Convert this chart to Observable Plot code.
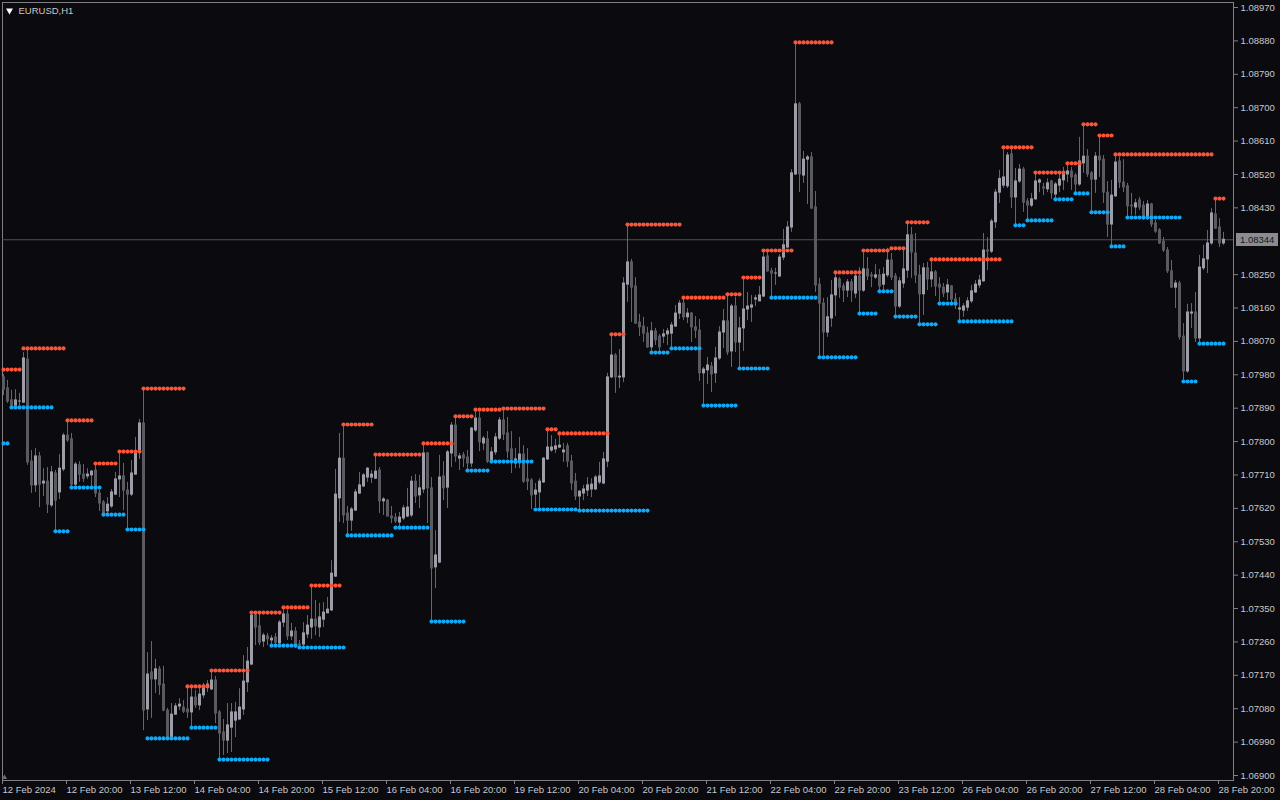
<!DOCTYPE html>
<html><head><meta charset="utf-8">
<style>html,body{margin:0;padding:0;background:#0a0a0f;overflow:hidden}</style>
<script src="https://cdn.jsdelivr.net/npm/d3@7"></script>
<script src="https://cdn.jsdelivr.net/npm/@observablehq/plot@0.6"></script>
</head><body><div id="chart"></div>
<script>
const symbolName = "EURUSD,H1";
const tickBars = [0,16,32,48,64,80,96,112,128,144,160,176,192,208,224,240,256,272,288,304];
const timeLabels = ["12 Feb 2024","12 Feb 20:00","13 Feb 12:00","14 Feb 04:00","14 Feb 20:00","15 Feb 12:00","16 Feb 04:00","16 Feb 20:00","19 Feb 12:00","20 Feb 04:00","20 Feb 20:00","21 Feb 12:00","22 Feb 04:00","22 Feb 20:00","23 Feb 12:00","26 Feb 04:00","26 Feb 20:00","27 Feb 12:00","28 Feb 04:00","28 Feb 20:00"];
// price-axis labels (the 1.08340 slot is covered by the current-price label)
const priceTicks = [1.0690,1.0699,1.0708,1.0717,1.0726,1.0735,1.0744,1.0753,1.0762,1.0771,1.0780,1.0789,1.0798,1.0807,1.0816,1.0825,1.0843,1.0852,1.0861,1.0870,1.0879,1.0888,1.0897];

const open = [1.07973,1.07943,1.07911,1.07897,1.07908,1.07905,1.08021,1.07746,1.07682,1.07760,1.07687,1.07692,1.07628,1.07714,1.07663,1.07725,1.07816,1.07806,1.07684,1.07736,
1.07711,1.07706,1.07709,1.07722,1.07660,1.07636,1.07612,1.07625,1.07657,1.07698,1.07706,1.07668,1.07657,1.07711,1.07771,1.07849,1.07078,1.07178,1.07159,1.07186,
1.07145,1.07075,1.07002,1.07064,1.07086,1.07083,1.07078,1.07070,1.07110,1.07089,1.07116,1.07137,1.07132,1.07156,1.07070,1.07016,1.06994,1.07029,1.07048,1.07051,
1.07078,1.07151,1.07199,1.07331,1.07302,1.07261,1.07275,1.07264,1.07272,1.07256,1.07312,1.07334,1.07275,1.07288,1.07253,1.07253,1.07280,1.07299,1.07320,1.07299,
1.07320,1.07337,1.07345,1.07436,1.07647,1.07754,1.07606,1.07587,1.07614,1.07660,1.07679,1.07703,1.07703,1.07700,1.07722,1.07639,1.07641,1.07598,1.07595,1.07582,
1.07593,1.07598,1.07601,1.07692,1.07655,1.07671,1.07768,1.07674,1.07461,1.07474,1.07706,1.07676,1.07768,1.07843,1.07754,1.07763,1.07757,1.07741,1.07830,1.07862,
1.07795,1.07806,1.07746,1.07771,1.07808,1.07857,1.07822,1.07779,1.07741,1.07744,1.07765,1.07698,1.07695,1.07657,1.07663,1.07690,1.07752,1.07776,1.07779,1.07784,
1.07771,1.07787,1.07746,1.07692,1.07652,1.07660,1.07668,1.07671,1.07671,1.07690,1.07687,1.07746,1.07973,1.08032,1.07973,1.07973,1.08223,1.08283,1.08218,1.08121,
1.08110,1.08091,1.08054,1.08097,1.08083,1.08083,1.08089,1.08091,1.08110,1.08145,1.08172,1.08135,1.08145,1.08108,1.08099,1.07984,1.07992,1.08002,1.07984,1.08024,
1.08094,1.08124,1.08043,1.08164,1.08067,1.08105,1.08156,1.08161,1.08183,1.08178,1.08191,1.08299,1.08259,1.08253,1.08245,1.08296,1.08323,1.08377,1.08520,1.08709,
1.08517,1.08560,1.08566,1.08431,1.08223,1.08172,1.08094,1.08132,1.08194,1.08237,1.08218,1.08207,1.08229,1.08199,1.08245,1.08207,1.08264,1.08248,1.08242,1.08248,
1.08223,1.08248,1.08288,1.08245,1.08164,1.08226,1.08261,1.08356,1.08307,1.08248,1.08197,1.08267,1.08237,1.08256,1.08223,1.08215,1.08202,1.08218,1.08183,1.08156,
1.08153,1.08161,1.08178,1.08202,1.08221,1.08232,1.08315,1.08312,1.08391,1.08471,1.08490,1.08488,1.08574,1.08458,1.08501,1.08533,1.08447,1.08436,1.08453,1.08498,
1.08485,1.08480,1.08501,1.08466,1.08490,1.08504,1.08520,1.08528,1.08517,1.08493,1.08550,1.08568,1.08523,1.08506,1.08568,1.08560,1.08471,1.08385,1.08461,1.08555,
1.08498,1.08488,1.08436,1.08431,1.08450,1.08436,1.08401,1.08439,1.08388,1.08369,1.08339,1.08315,1.08259,1.08215,1.08226,1.08083,1.07989,1.08145,1.08148,1.08078,
1.08267,1.08291,1.08334,1.08412,1.08377,1.08334];

const high = [1.07981,1.07965,1.07938,1.07940,1.07930,1.08040,1.08051,1.07776,1.07781,1.07771,1.07727,1.07730,1.07733,1.07722,1.07765,1.07822,1.07857,1.07822,1.07744,1.07746,
1.07738,1.07727,1.07722,1.07741,1.07668,1.07641,1.07649,1.07671,1.07717,1.07773,1.07741,1.07690,1.07749,1.07811,1.07860,1.07943,1.07231,1.07261,1.07213,1.07194,
1.07194,1.07081,1.07094,1.07094,1.07107,1.07102,1.07140,1.07137,1.07129,1.07137,1.07148,1.07156,1.07183,1.07167,1.07075,1.07051,1.07094,1.07094,1.07097,1.07134,
1.07223,1.07245,1.07339,1.07337,1.07337,1.07283,1.07283,1.07277,1.07283,1.07318,1.07353,1.07345,1.07310,1.07299,1.07264,1.07312,1.07331,1.07412,1.07372,1.07364,
1.07366,1.07380,1.07479,1.07725,1.07822,1.07846,1.07625,1.07622,1.07671,1.07717,1.07714,1.07730,1.07722,1.07765,1.07730,1.07649,1.07644,1.07625,1.07606,1.07609,
1.07628,1.07674,1.07706,1.07711,1.07709,1.07795,1.07771,1.07703,1.07560,1.07763,1.07746,1.07776,1.07851,1.07868,1.07768,1.07771,1.07776,1.07838,1.07886,1.07878,
1.07814,1.07827,1.07784,1.07822,1.07865,1.07889,1.07865,1.07827,1.07781,1.07811,1.07789,1.07781,1.07700,1.07687,1.07700,1.07757,1.07833,1.07816,1.07806,1.07822,
1.07795,1.07795,1.07763,1.07714,1.07668,1.07682,1.07703,1.07700,1.07709,1.07744,1.07771,1.07984,1.08089,1.08037,1.08048,1.08242,1.08385,1.08291,1.08242,1.08143,
1.08135,1.08108,1.08121,1.08105,1.08089,1.08102,1.08105,1.08121,1.08167,1.08180,1.08188,1.08159,1.08148,1.08137,1.08129,1.08000,1.08027,1.08013,1.08054,1.08110,
1.08156,1.08197,1.08170,1.08188,1.08135,1.08242,1.08202,1.08194,1.08194,1.08218,1.08315,1.08315,1.08267,1.08267,1.08304,1.08372,1.08393,1.08533,1.08876,1.08714,
1.08582,1.08571,1.08579,1.08474,1.08240,1.08186,1.08188,1.08234,1.08256,1.08242,1.08226,1.08237,1.08237,1.08253,1.08269,1.08315,1.08296,1.08256,1.08277,1.08264,
1.08269,1.08321,1.08307,1.08253,1.08242,1.08315,1.08391,1.08377,1.08361,1.08275,1.08280,1.08283,1.08291,1.08261,1.08242,1.08226,1.08237,1.08221,1.08199,1.08188,
1.08172,1.08188,1.08221,1.08234,1.08248,1.08361,1.08350,1.08399,1.08480,1.08531,1.08593,1.08579,1.08590,1.08536,1.08547,1.08539,1.08455,1.08469,1.08525,1.08508,
1.08496,1.08508,1.08504,1.08498,1.08520,1.08539,1.08550,1.08539,1.08523,1.08620,1.08655,1.08587,1.08528,1.08579,1.08625,1.08571,1.08501,1.08504,1.08574,1.08566,
1.08560,1.08496,1.08469,1.08453,1.08458,1.08447,1.08450,1.08442,1.08396,1.08374,1.08350,1.08323,1.08288,1.08234,1.08232,1.08118,1.08170,1.08172,1.08202,1.08302,
1.08329,1.08369,1.08428,1.08455,1.08401,1.08364];

const low = [1.07924,1.07903,1.07892,1.07892,1.07897,1.07903,1.07736,1.07660,1.07663,1.07622,1.07652,1.07606,1.07622,1.07558,1.07644,1.07719,1.07798,1.07676,1.07676,1.07690,
1.07690,1.07698,1.07676,1.07649,1.07612,1.07603,1.07606,1.07620,1.07655,1.07649,1.07614,1.07563,1.07652,1.07709,1.07752,1.07021,1.07048,1.07054,1.07121,1.07116,
1.07072,1.07000,1.07000,1.07062,1.07075,1.07067,1.07054,1.07029,1.07081,1.07075,1.07107,1.07124,1.07129,1.07040,1.06943,1.06954,1.06959,1.06962,1.07002,1.07048,
1.07062,1.07124,1.07196,1.07250,1.07250,1.07245,1.07250,1.07250,1.07250,1.07250,1.07299,1.07264,1.07264,1.07242,1.07245,1.07245,1.07269,1.07267,1.07277,1.07272,
1.07299,1.07337,1.07342,1.07434,1.07582,1.07579,1.07547,1.07558,1.07612,1.07657,1.07676,1.07690,1.07687,1.07698,1.07606,1.07601,1.07598,1.07579,1.07579,1.07568,
1.07587,1.07595,1.07595,1.07633,1.07620,1.07660,1.07579,1.07315,1.07404,1.07471,1.07641,1.07620,1.07730,1.07744,1.07722,1.07730,1.07722,1.07730,1.07825,1.07773,
1.07776,1.07741,1.07741,1.07763,1.07803,1.07803,1.07754,1.07714,1.07727,1.07727,1.07687,1.07668,1.07617,1.07622,1.07620,1.07687,1.07749,1.07771,1.07768,1.07781,
1.07744,1.07730,1.07668,1.07641,1.07614,1.07641,1.07652,1.07649,1.07668,1.07684,1.07684,1.07730,1.07970,1.07930,1.07943,1.07959,1.08175,1.08121,1.08116,1.08083,
1.08067,1.08051,1.08040,1.08059,1.08040,1.08064,1.08059,1.08051,1.08108,1.08129,1.08126,1.08118,1.08067,1.08078,1.07962,1.07897,1.07954,1.07932,1.07957,1.08019,
1.08051,1.08032,1.08000,1.08040,1.07997,1.08043,1.08126,1.08121,1.08164,1.08178,1.08188,1.08256,1.08188,1.08221,1.08242,1.08288,1.08321,1.08364,1.08517,1.08471,
1.08496,1.08439,1.08426,1.08202,1.08027,1.08032,1.08081,1.08108,1.08137,1.08186,1.08175,1.08188,1.08175,1.08186,1.08145,1.08202,1.08234,1.08215,1.08237,1.08205,
1.08207,1.08242,1.08234,1.08137,1.08159,1.08213,1.08240,1.08240,1.08226,1.08116,1.08140,1.08207,1.08215,1.08191,1.08172,1.08188,1.08180,1.08175,1.08156,1.08124,
1.08135,1.08151,1.08172,1.08199,1.08213,1.08229,1.08261,1.08307,1.08374,1.08442,1.08482,1.08482,1.08428,1.08383,1.08496,1.08418,1.08396,1.08431,1.08450,1.08471,
1.08463,1.08471,1.08453,1.08453,1.08471,1.08477,1.08498,1.08477,1.08469,1.08488,1.08523,1.08512,1.08418,1.08469,1.08512,1.08442,1.08350,1.08326,1.08458,1.08482,
1.08471,1.08404,1.08410,1.08410,1.08423,1.08396,1.08396,1.08377,1.08361,1.08331,1.08310,1.08253,1.08213,1.08159,1.08073,1.07962,1.07984,1.08105,1.08067,1.08064,
1.08261,1.08253,1.08329,1.08372,1.08323,1.08329];

const close = [1.07940,1.07908,1.07897,1.07911,1.07908,1.08024,1.07744,1.07682,1.07760,1.07684,1.07692,1.07630,1.07717,1.07641,1.07727,1.07816,1.07803,1.07684,1.07738,1.07711,
1.07700,1.07711,1.07719,1.07660,1.07633,1.07606,1.07630,1.07663,1.07698,1.07706,1.07668,1.07657,1.07714,1.07771,1.07849,1.07075,1.07172,1.07159,1.07186,1.07143,
1.07075,1.07002,1.07064,1.07086,1.07091,1.07072,1.07070,1.07110,1.07089,1.07118,1.07137,1.07145,1.07156,1.07067,1.07013,1.06994,1.07035,1.07070,1.07070,1.07083,
1.07153,1.07207,1.07331,1.07299,1.07258,1.07277,1.07267,1.07269,1.07258,1.07312,1.07334,1.07275,1.07288,1.07250,1.07250,1.07283,1.07304,1.07320,1.07302,1.07326,
1.07339,1.07347,1.07444,1.07657,1.07754,1.07601,1.07587,1.07617,1.07663,1.07682,1.07709,1.07727,1.07711,1.07719,1.07639,1.07644,1.07598,1.07593,1.07585,1.07595,
1.07620,1.07622,1.07692,1.07652,1.07674,1.07768,1.07674,1.07458,1.07493,1.07703,1.07674,1.07771,1.07843,1.07760,1.07760,1.07754,1.07741,1.07835,1.07862,1.07798,
1.07808,1.07746,1.07771,1.07811,1.07857,1.07819,1.07773,1.07752,1.07752,1.07765,1.07692,1.07692,1.07655,1.07668,1.07692,1.07754,1.07784,1.07784,1.07787,1.07789,
1.07776,1.07746,1.07687,1.07652,1.07665,1.07671,1.07682,1.07684,1.07703,1.07706,1.07752,1.07973,1.08032,1.07973,1.07975,1.08226,1.08283,1.08215,1.08118,1.08108,
1.08091,1.08054,1.08097,1.08073,1.08054,1.08089,1.08097,1.08113,1.08145,1.08172,1.08135,1.08145,1.08108,1.08099,1.07984,1.07994,1.08005,1.07981,1.08024,1.08094,
1.08124,1.08040,1.08164,1.08067,1.08105,1.08156,1.08164,1.08167,1.08186,1.08194,1.08296,1.08259,1.08253,1.08253,1.08296,1.08329,1.08377,1.08523,1.08709,1.08520,
1.08560,1.08566,1.08428,1.08221,1.08172,1.08094,1.08135,1.08194,1.08240,1.08215,1.08207,1.08229,1.08207,1.08245,1.08207,1.08264,1.08245,1.08245,1.08248,1.08218,
1.08250,1.08288,1.08242,1.08164,1.08232,1.08264,1.08356,1.08310,1.08248,1.08197,1.08267,1.08237,1.08256,1.08218,1.08215,1.08199,1.08221,1.08183,1.08167,1.08159,
1.08164,1.08178,1.08205,1.08223,1.08234,1.08315,1.08312,1.08393,1.08471,1.08508,1.08512,1.08571,1.08458,1.08501,1.08533,1.08444,1.08436,1.08453,1.08501,1.08504,
1.08482,1.08496,1.08469,1.08493,1.08506,1.08525,1.08528,1.08512,1.08493,1.08555,1.08568,1.08520,1.08506,1.08568,1.08558,1.08471,1.08385,1.08463,1.08552,1.08498,
1.08485,1.08434,1.08434,1.08442,1.08431,1.08404,1.08439,1.08385,1.08366,1.08334,1.08315,1.08259,1.08215,1.08226,1.08081,1.07989,1.08148,1.08148,1.08078,1.08269,
1.08291,1.08334,1.08415,1.08374,1.08334,1.08344];

// resistance (red) and support (blue) levels: first bar, last bar, price
const resFrom  = [0,5,16,23,29,35,46,52,62,70,77,85,93,105,113,118,125,136,139,152,156,170,181,185,190,198,208,215,222,226,232,250,258,266,270,274,278,303];
const resTo    = [4,15,22,28,34,45,51,61,69,76,84,92,104,112,117,124,135,138,151,155,169,180,184,189,197,207,214,221,225,231,249,257,265,269,273,277,302,305];
const resLevel = [1.07994,1.08051,1.07857,1.07741,1.07773,1.07943,1.07140,1.07183,1.07339,1.07353,1.07412,1.07846,1.07765,1.07795,1.07868,1.07886,1.07889,1.07833,1.07822,1.08089,1.08385,1.08188,1.08197,1.08242,1.08315,1.08876,1.08256,1.08315,1.08321,1.08391,1.08291,1.08593,1.08525,1.08550,1.08655,1.08625,1.08574,1.08455];
const supFrom  = [0,2,13,17,25,31,36,47,54,67,74,86,98,107,116,122,133,144,162,167,175,184,192,204,214,219,223,229,234,239,253,256,263,268,272,277,281,295,299];
const supTo    = [1,12,16,24,30,35,46,53,66,73,85,97,106,115,121,132,143,161,166,174,183,191,203,213,218,222,228,233,238,252,255,262,267,271,276,280,294,298,305];
const supLevel = [1.07795,1.07892,1.07558,1.07676,1.07603,1.07563,1.07000,1.07029,1.06943,1.07250,1.07245,1.07547,1.07568,1.07315,1.07722,1.07746,1.07617,1.07614,1.08040,1.08051,1.07897,1.07997,1.08188,1.08027,1.08145,1.08205,1.08137,1.08116,1.08172,1.08124,1.08383,1.08396,1.08453,1.08469,1.08418,1.08326,1.08404,1.07962,1.08064];

const candles = close.map((c, i) => ({i, open: open[i], high: high[i], low: low[i], close: c}));
const expand = (from, to, level) => from.flatMap((f, k) => d3.range(f, to[k] + 1).map(i => ({i, price: level[k]})));
const resDots = expand(resFrom, resTo, resLevel);
const supDots = expand(supFrom, supTo, supLevel);
const lastClose = close[close.length - 1];

const BULL = "#9e9ea8", BEAR = "#5a5a61", WICK = "#66666d";
const RED = "#f8563a", BLUE = "#12a8f4";
const FONT = "'Liberation Sans', Arial, sans-serif";

const plot = Plot.plot({
  width: 1280, height: 800,
  marginLeft: 2, marginRight: 47, marginTop: 2, marginBottom: 20,
  style: {background: "#0a0a0f", color: "#c8c8cc", fontFamily: FONT, fontSize: "9.5px"},
  x: {domain: [0, 305], range: [3, 1223], axis: null},
  y: {domain: [1.069, 1.0897], range: [775, 7], axis: null},
  marks: [
    Plot.frame({stroke: "#808084"}),
    Plot.ruleY([lastClose], {stroke: "#505056"}),
    Plot.ruleX(candles, {x: "i", y1: "high", y2: "low", stroke: WICK, strokeWidth: 1}),
    Plot.ruleX(candles, {x: "i", y1: d => Math.max(d.open, d.close), y2: d => Math.min(d.open, d.close),
      stroke: d => d.close >= d.open ? BULL : BEAR, strokeWidth: 3, insetTop: -0.5, insetBottom: -0.5}),
    Plot.dot(resDots, {x: "i", y: "price", r: 2.1, fill: RED}),
    Plot.dot(supDots, {x: "i", y: "price", r: 2.1, fill: BLUE}),
    Plot.axisY(priceTicks, {anchor: "right", tickSize: 4, tickPadding: 3, tickFormat: d => d.toFixed(5), stroke: "#808084", fill: "#c8c8cc", label: null}),
    Plot.axisX(tickBars, {anchor: "bottom", tickSize: 4, tickPadding: 2, tickFormat: d => timeLabels[tickBars.indexOf(d)], textAnchor: "start", dx: -1, stroke: "#808084", fill: "#c8c8cc", label: null}),
    Plot.dot([0], {frameAnchor: "top-left", dx: 7, dy: 8, symbol: "triangle", rotate: 180, r: 2.6, fill: "#ffffff"}),
    Plot.text([symbolName], {frameAnchor: "top-left", dx: 16, dy: 8, text: d => d, textAnchor: "start", lineAnchor: "middle", fill: "#c8c8cc", fontSize: 9.5}),
    Plot.dot([0], {frameAnchor: "bottom-left", dx: 2, dy: -3, symbol: "triangle", r: 2, fill: "#6c6c73"})
  ]
});
document.getElementById("chart").appendChild(plot);

// current price label on the price axis
const yPos = plot.scale("y").apply(lastClose);
const g = d3.select(plot).append("g");
g.append("rect").attr("x", 1236).attr("y", Math.round(yPos) - 6).attr("width", 42).attr("height", 13).attr("fill", "#8c8c90");
g.append("text").attr("x", 1240).attr("y", yPos + 0.5).attr("dy", "0.32em").attr("text-anchor", "start").attr("fill", "#16161a")
  .attr("font-size", 9.5).attr("font-family", FONT).text(lastClose.toFixed(5));
</script>
</body></html>
